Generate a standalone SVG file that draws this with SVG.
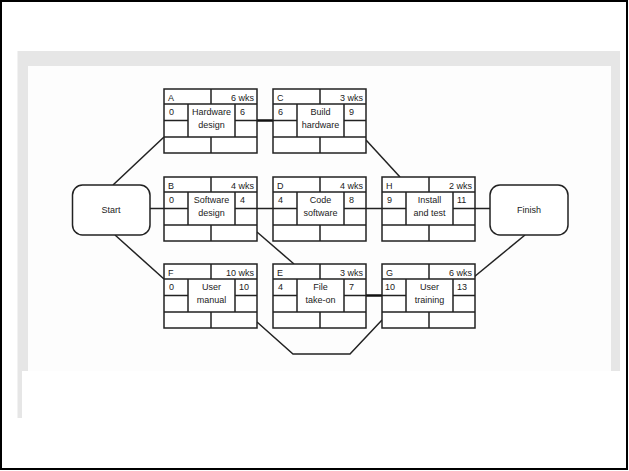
<svg xmlns="http://www.w3.org/2000/svg" xmlns:xlink="http://www.w3.org/1999/xlink" width="629" height="471" viewBox="0 0 629 471">
<style>
.ln{fill:none;stroke:#222;stroke-width:1.5}
.thick{fill:none;stroke:#111;stroke-width:2.5}
.box{fill:#fff;stroke:#222;stroke-width:1.5}
text{font-family:"Liberation Sans",Arial,sans-serif;font-size:9px;fill:#222}
.c{text-anchor:middle}
.e{text-anchor:end}
</style>
<defs>
<g id="frame">
<rect x="0" y="0" width="93" height="64" class="box"/>
<path class="ln" d="M0 15H93M0 48H93M47 0V15M47 48V64M24 15V48M71 15V48M0 31.5H24M71 31.5H93"/>
</g>
</defs>
<rect x="1" y="1" width="626" height="468" fill="#fff" stroke="#000" stroke-width="2"/>
<rect x="17.5" y="51" width="602.5" height="320" fill="#e6e6e6"/>
<rect x="28" y="66" width="583" height="305" fill="#fdfdfd"/>
<rect x="17.5" y="371" width="4.5" height="47" fill="#e6e6e6"/>
<g id="connectors">
<path class="ln" d="M113 185L164 137"/>
<path class="ln" d="M115 235L164 279"/>
<path class="ln" d="M150 208.5H164"/>
<path class="thick" d="M257 120.5H273"/>
<path class="ln" d="M366 140L400 177"/>
<path class="ln" d="M257 208.5H273"/>
<path class="ln" d="M366 208.5H382"/>
<path class="ln" d="M475 208.5H490"/>
<path class="ln" d="M257 232L294 264"/>
<path class="ln" d="M257 322L293 354H350L382 320"/>
<path class="thick" d="M366 295.5H382"/>
<path class="ln" d="M474 277L525 235"/>
</g>
<g id="start">
<rect x="72.5" y="185" width="77.5" height="50" rx="10" class="box"/>
<text x="111" y="213" class="c">Start</text>
</g>
<g id="finish">
<rect x="490" y="185" width="78" height="50" rx="10" class="box"/>
<text x="529" y="213" class="c">Finish</text>
</g>
<g id="nodeA" transform="translate(164,89)">
<use xlink:href="#frame"/>
<text x="4" y="11.5">A</text><text x="90" y="11.5" class="e">6 wks</text>
<text x="5" y="26">0</text><text x="76" y="26">6</text>
<text x="47.5" y="26" class="c">Hardware</text><text x="47.5" y="39" class="c">design</text>
</g>
<g id="nodeC" transform="translate(273,89)">
<use xlink:href="#frame"/>
<text x="4" y="11.5">C</text><text x="90" y="11.5" class="e">3 wks</text>
<text x="5" y="26">6</text><text x="76" y="26">9</text>
<text x="47.5" y="26" class="c">Build</text><text x="47.5" y="39" class="c">hardware</text>
</g>
<g id="nodeB" transform="translate(164,177)">
<use xlink:href="#frame"/>
<text x="4" y="11.5">B</text><text x="90" y="11.5" class="e">4 wks</text>
<text x="5" y="26">0</text><text x="76" y="26">4</text>
<text x="47.5" y="26" class="c">Software</text><text x="47.5" y="39" class="c">design</text>
</g>
<g id="nodeD" transform="translate(273,177)">
<use xlink:href="#frame"/>
<text x="4" y="11.5">D</text><text x="90" y="11.5" class="e">4 wks</text>
<text x="5" y="26">4</text><text x="76" y="26">8</text>
<text x="47.5" y="26" class="c">Code</text><text x="47.5" y="39" class="c">software</text>
</g>
<g id="nodeH" transform="translate(382,177)">
<use xlink:href="#frame"/>
<text x="4" y="11.5">H</text><text x="90" y="11.5" class="e">2 wks</text>
<text x="5" y="26">9</text><text x="75" y="26">11</text>
<text x="47.5" y="26" class="c">Install</text><text x="47.5" y="39" class="c">and test</text>
</g>
<g id="nodeF" transform="translate(164,264)">
<use xlink:href="#frame"/>
<text x="4" y="11.5">F</text><text x="90" y="11.5" class="e">10 wks</text>
<text x="5" y="26">0</text><text x="75" y="26">10</text>
<text x="47.5" y="26" class="c">User</text><text x="47.5" y="39" class="c">manual</text>
</g>
<g id="nodeE" transform="translate(273,264)">
<use xlink:href="#frame"/>
<text x="4" y="11.5">E</text><text x="90" y="11.5" class="e">3 wks</text>
<text x="5" y="26">4</text><text x="76" y="26">7</text>
<text x="47.5" y="26" class="c">File</text><text x="47.5" y="39" class="c">take-on</text>
</g>
<g id="nodeG" transform="translate(382,264)">
<use xlink:href="#frame"/>
<text x="4" y="11.5">G</text><text x="90" y="11.5" class="e">6 wks</text>
<text x="3" y="26">10</text><text x="75" y="26">13</text>
<text x="47.5" y="26" class="c">User</text><text x="47.5" y="39" class="c">training</text>
</g>
</svg>
